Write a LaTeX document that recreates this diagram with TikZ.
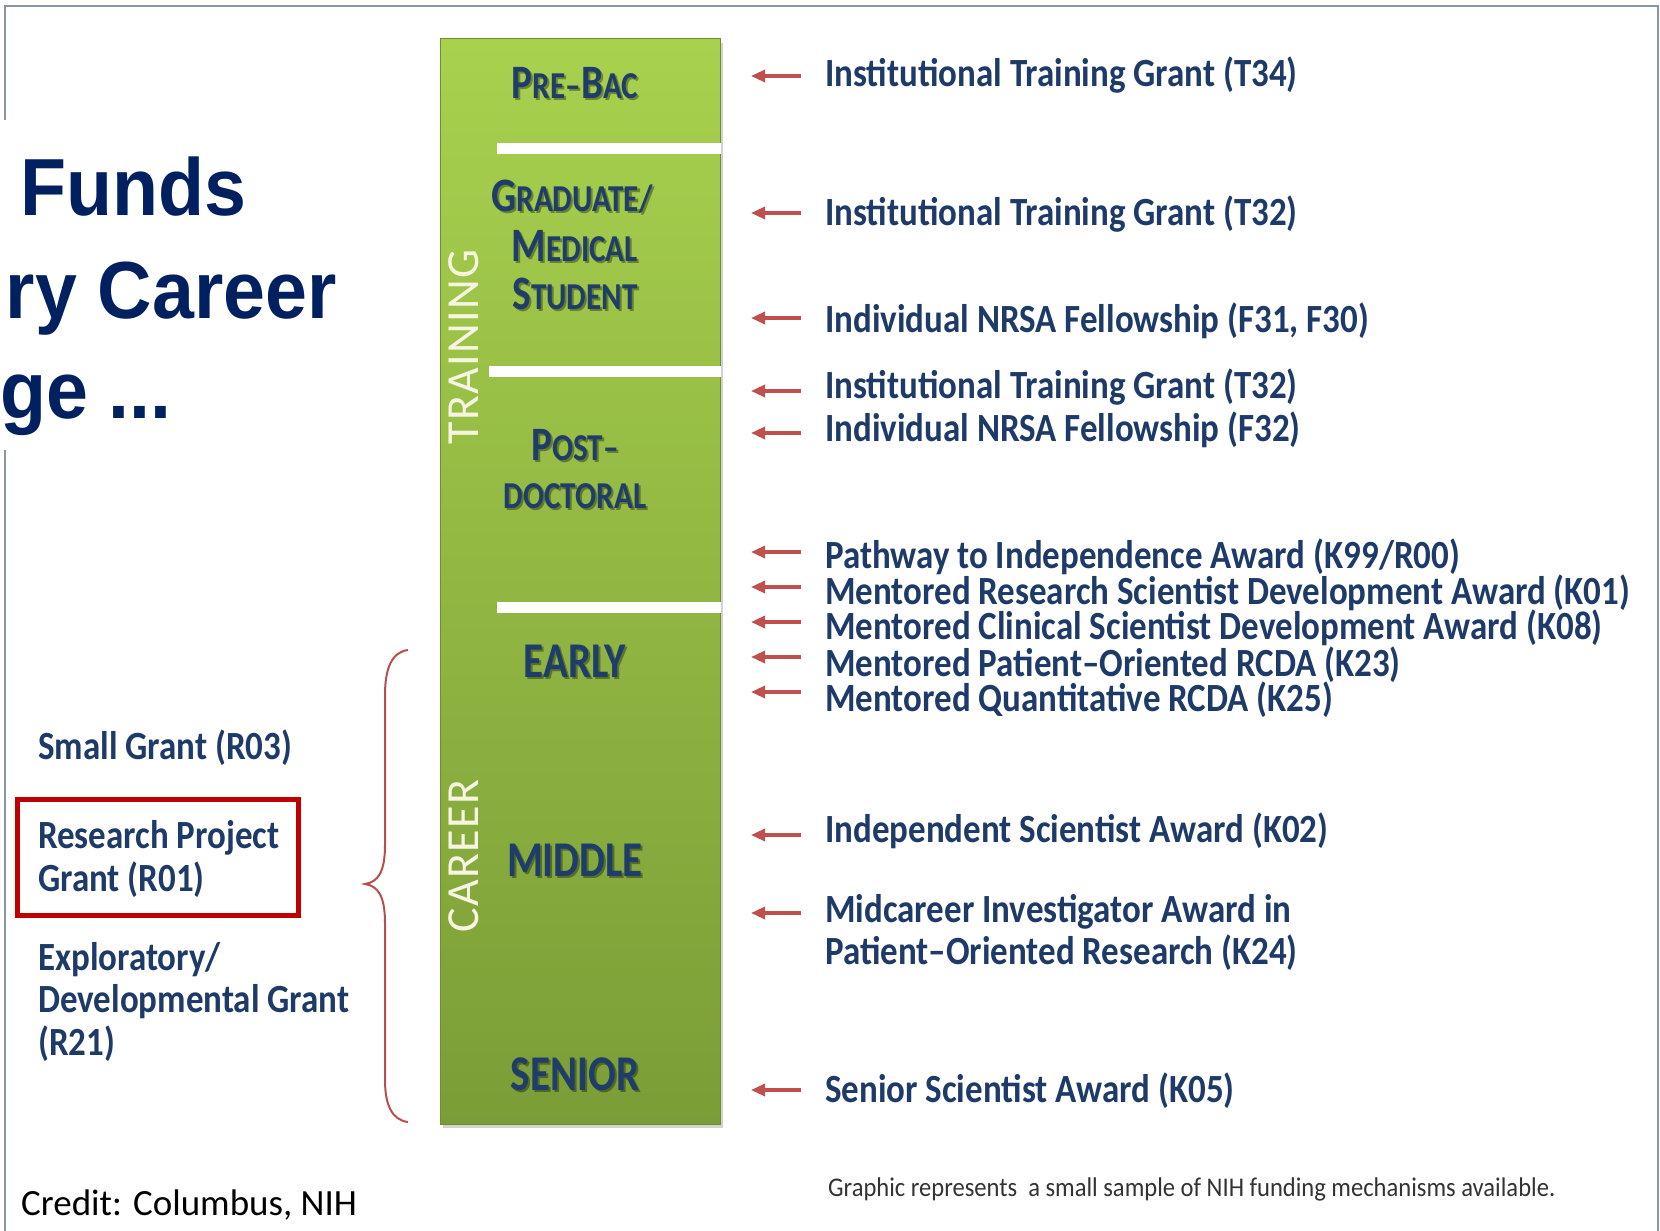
\documentclass[tikz,border=0pt]{standalone}
\usepackage{fontspec}
\setmainfont{Carlito}
\newfontfamily\lblfont[FakeStretch=0.874]{Carlito}
\newfontfamily\barfont[FakeStretch=0.82]{Carlito}
\newfontfamily\sidefont{Carlito}
\newfontfamily\sidewide[LetterSpace=3]{Carlito}
\newfontfamily\ttlfont[FakeStretch=0.93]{Liberation Sans}
\newfontfamily\notefont[FakeStretch=0.91]{Carlito}
\usetikzlibrary{arrows.meta,shadows,calc}
\definecolor{framegray}{HTML}{8A96A3}
\definecolor{ttlnavy}{HTML}{002060}
\definecolor{lblnavy}{HTML}{1E3A68}
\definecolor{barnavy}{HTML}{1F3D6B}
\definecolor{bartop}{HTML}{A8D14E}
\definecolor{barbot}{HTML}{7B9D37}
\definecolor{baredge}{HTML}{6E8E30}
\definecolor{arrred}{HTML}{C0504D}
\definecolor{boxred}{HTML}{C00000}
\definecolor{bracered}{HTML}{B5504E}
\definecolor{sidecream}{HTML}{F6F5E2}
\definecolor{notegray}{HTML}{333333}
\newcommand\smc[1]{{\fontsize{38}{40}\selectfont #1}}
\newcommand\barlabel[3]{%
  \node[barlbl,text=black,opacity=0.35] (#1s) at ($#2+(2,2)$) {#3};
  \node[barlbl] (#1) at #2 {#3};}
\tikzset{
  lbl/.style={font=\lblfont\bfseries\fontsize{40}{42}\selectfont, text=lblnavy, inner sep=0pt, anchor=base west},
  barlbl/.style={font=\barfont\bfseries\fontsize{48}{50}\selectfont, text=barnavy, inner sep=0pt, anchor=base},
  sidelbl/.style={font=\sidewide\fontsize{46}{48}\selectfont, text=sidecream, inner sep=0pt, rotate=90},
  ttl/.style={font=\ttlfont\bfseries\fontsize{81}{90}\selectfont, text=ttlnavy, inner sep=0pt, anchor=base east},
  arr/.style={draw=arrred, line width=3.2pt, -{Triangle[length=14pt,width=12pt]}},
  sep/.style={fill=white},
}
\begin{document}
\begin{tikzpicture}[x=1pt,y=-1pt]
\useasboundingbox (0,0) rectangle (1660,1231);
\fill[white] (0,0) rectangle (1660,1231);
% frame
\draw[framegray, line width=2pt] (5,120) -- (5,6) -- (1658,6) -- (1658,1231);
\draw[framegray, line width=2pt] (5,450) -- (5,1231);
% title
\node[ttl] (ttl1) at (247,215) {Funds};
\node[ttl] (ttl2) at (337,318) {ry Career};
\node[ttl] (ttl3) at (172,418) {ge ...};
% bar
\path[drop shadow={shadow xshift=3pt, shadow yshift=-4pt, opacity=0.35}]
  (440,39) rectangle (720,1124);
\shade[top color=bartop, bottom color=barbot, draw=baredge, line width=1pt] (440,39) rectangle (720,1124);
\fill[sep] (497,143) rectangle (721,154);
\fill[sep] (489,366) rectangle (721,377);
\fill[sep] (497,602) rectangle (721,613);
% bar labels
\barlabel{prebac}{(575,98)}{P\smc{RE–}B\smc{AC}}
\barlabel{grad}{(572,211)}{G\smc{RADUATE/}}
\barlabel{med}{(575,261)}{M\smc{EDICAL}}
\barlabel{stud}{(575,309)}{S\smc{TUDENT}}
\barlabel{post}{(575,460)}{P\smc{OST–}}
\barlabel{doc}{(575,508)}{\smc{DOCTORAL}}
\barlabel{early}{(575,677)}{{\fontsize{50}{52}\selectfont EARLY}}
\barlabel{middle}{(575,876)}{{\fontsize{50}{52}\selectfont MIDDLE}}
\barlabel{senior}{(575,1090)}{{\fontsize{50}{52}\selectfont SENIOR}}
\node[sidelbl] (training) at (464,347) {TRAINING};
\node[sidelbl] (career) at (464,856) {CAREER};
% right labels
\node[lbl] (t1) at (825,86) {Institutional Training Grant (T34)};
\node[lbl] (t2) at (825,225) {Institutional Training Grant (T32)};
\node[lbl] (t3) at (825,332) {Individual NRSA Fellowship (F31, F30)};
\node[lbl] (t4) at (825,398) {Institutional Training Grant (T32)};
\node[lbl] (t5) at (825,441) {Individual NRSA Fellowship (F32)};
\node[lbl] (t6) at (825,568) {Pathway to Independence Award (K99/R00)};
\node[lbl] (t7) at (825,604) {Mentored Research Scientist Development Award (K01)};
\node[lbl] (t8) at (825,639) {Mentored Clinical Scientist Development Award (K08)};
\node[lbl] (t9) at (825,676) {Mentored Patient–Oriented RCDA (K23)};
\node[lbl] (t10) at (825,711) {Mentored Quantitative RCDA (K25)};
\node[lbl] (t11) at (825,842) {Independent Scientist Award (K02)};
\node[lbl] (t12a) at (825,922) {Midcareer Investigator Award in};
\node[lbl] (t12b) at (825,964) {Patient–Oriented Research (K24)};
\node[lbl] (t13) at (825,1102) {Senior Scientist Award (K05)};
% arrows
\foreach \n/\y in {1/76,2/213,3/318,4/391,5/433,6/552,7/587,8/622,9/657,10/692,11/835,12/913,13/1090}{
  \coordinate (as\n) at (801,\y);
  \coordinate (ae\n) at (751,\y);
  \draw[arr] (as\n) -- (ae\n);
}
% left labels
\node[lbl] (l1) at (38,759) {Small Grant (R03)};
\node[lbl] (l2) at (38,848) {Research Project};
\node[lbl] (l3) at (38,891) {Grant (R01)};
\node[lbl] (l4) at (38,970) {Exploratory/};
\node[lbl] (l5) at (38,1012) {Developmental Grant};
\node[lbl] (l6) at (38,1055) {(R21)};
\draw[boxred, line width=5pt] (17,799) rectangle (298,915);
% brace
\draw[bracered, line width=2pt]
  (408,650) .. controls (392,652) and (385,668) .. (385,695) -- (385,845)
  .. controls (385,872) and (378,882) .. (365,884)
  .. controls (378,886) and (385,896) .. (385,923) -- (385,1080)
  .. controls (385,1105) and (392,1120) .. (408,1122);
% notes
\node[font=\sidefont\fontsize{37}{40}\selectfont, text=black, inner sep=0pt, anchor=base west] (credit) at (21,1215) {Credit: Columbus, NIH};
\node[font=\notefont\fontsize{27}{30}\selectfont, text=notegray, inner sep=0pt, anchor=base west] (note) at (828,1196) {Graphic represents\ \ a small sample of NIH funding mechanisms available.};
\end{tikzpicture}
\end{document}
